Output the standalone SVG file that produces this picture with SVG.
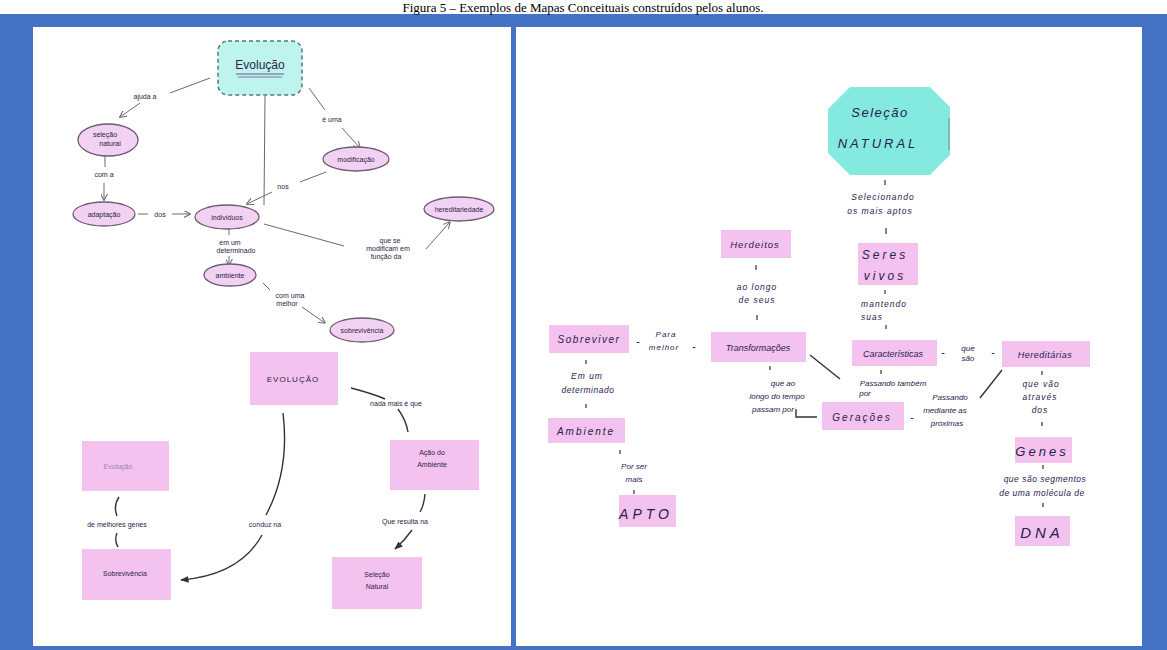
<svg xmlns="http://www.w3.org/2000/svg" width="1167" height="650" viewBox="0 0 1167 650">
<defs>
<style>
.cloud{fill:#f2d2f2;stroke:#6e5a72;stroke-width:1.3}
.pk{fill:#f3c2ee}
.ln{fill:none;stroke:#6a6a6a;stroke-width:1}
.dk{fill:none;stroke:#333;stroke-width:1.4}
.t{font-family:"Liberation Sans",Arial,sans-serif;fill:#2b2448;text-anchor:middle}
.s{font-size:7px}
.hw{font-family:"Liberation Sans",Arial,sans-serif;font-style:italic;fill:#2a2050;text-anchor:middle}
</style>
<marker id="ah" viewBox="0 0 10 10" refX="9" refY="5" markerWidth="7" markerHeight="7" orient="auto"><path d="M0,0 L10,5 L0,10" fill="none" stroke="#6a6a6a" stroke-width="1.5"/></marker>
<marker id="ahd" viewBox="0 0 10 10" refX="9" refY="5" markerWidth="6" markerHeight="6" orient="auto"><path d="M0,1 L10,5 L0,9 Z" fill="#333"/></marker>
</defs>
<rect x="0" y="0" width="1167" height="650" fill="#fff"/>
<rect x="0" y="14" width="1167" height="636" fill="#4472c4"/>
<text x="583" y="12" font-family="Liberation Serif,serif" font-size="13" text-anchor="middle" fill="#000">Figura 5 – Exemplos de Mapas Conceituais construídos pelos alunos.</text>
<rect x="33" y="27" width="478" height="619" fill="#fff"/>
<rect x="516" y="27" width="626" height="619" fill="#fff"/>

<g id="connectors">
<path class="ln" d="M210,78 L170,93"/>
<path class="ln" d="M140,103 L120,117" marker-end="url(#ah)"/>
<path class="ln" d="M105,153 L105,167"/>
<path class="ln" d="M104,183 L104,200" marker-end="url(#ah)"/>
<path class="ln" d="M138,214 L148,214"/>
<path class="ln" d="M172,214 L190,214" marker-end="url(#ah)"/>
<path class="ln" d="M265,96 L264,205" stroke="#c8c8c8"/>
<path class="ln" d="M309,88 L325,110"/>
<path class="ln" d="M342,128 L360,148" marker-end="url(#ah)"/>
<path class="ln" d="M326,172 L300,182"/>
<path class="ln" d="M272,192 L247,204" marker-end="url(#ah)"/>
<path class="ln" d="M229,228 L229,235"/>
<path class="ln" d="M229,256 L229,265" marker-end="url(#ah)"/>
<path class="ln" d="M263,283 L270,290"/>
<path class="ln" d="M302,307 L325,323" marker-end="url(#ah)"/>
<path class="ln" d="M264,224 L344,246"/>
<path class="ln" d="M426,249 L450,222" marker-end="url(#ah)"/>
<path class="dk" d="M351,388 Q374,394 385,399"/>
<path class="dk" d="M398,409 Q406,420 408,432"/>
<path class="dk" d="M425,494 Q424,505 420,512"/>
<path class="dk" d="M412,530 Q405,540 395,549" marker-end="url(#ahd)"/>
<path class="dk" d="M283,413 Q290,470 266,515"/>
<path class="dk" d="M262,535 Q240,575 181,580" marker-end="url(#ahd)"/>
<path class="dk" d="M119,497 Q113,506 117,516"/>
<path class="dk" d="M117,533 Q114,540 118,547"/>
<path class="dk" d="M810,355 L840,379"/>
<path class="dk" d="M1002,370 L980,398"/>
<path class="dk" d="M796,409 L796,417 L817,417"/>
<g stroke="#333" stroke-width="1.2">
<line x1="885" y1="180" x2="885" y2="185"/><line x1="886" y1="228" x2="886" y2="234"/>
<line x1="885" y1="290" x2="885" y2="294"/><line x1="886" y1="325" x2="886" y2="329"/>
<line x1="881" y1="370" x2="881" y2="374"/>
<line x1="1042" y1="371" x2="1042" y2="375"/><line x1="1042" y1="422" x2="1042" y2="426"/>
<line x1="1043" y1="465" x2="1043" y2="469"/><line x1="1043" y1="503" x2="1043" y2="507"/>
<line x1="756" y1="265" x2="756" y2="270"/><line x1="757" y1="315" x2="757" y2="320"/>
<line x1="586" y1="360" x2="586" y2="364"/><line x1="586" y1="404" x2="586" y2="408"/>
<line x1="620" y1="450" x2="620" y2="454"/><line x1="634" y1="490" x2="634" y2="494"/>
<line x1="770" y1="366" x2="770" y2="370"/>
</g>
</g>

<g id="n-evolucao-top">
<rect x="218" y="41" width="84" height="54" rx="10" fill="#bff3ee" stroke="#4a7d7a" stroke-width="1.5" stroke-dasharray="4 3"/>
<text class="t" x="260" y="69" font-size="12">Evolução</text>
<line x1="236" y1="74" x2="284" y2="74" stroke="#6a5a92" stroke-width="1"/>
<line x1="238" y1="77" x2="282" y2="77" stroke="#6a5a92" stroke-width="0.8"/>
<text class="t s" x="145" y="99">ajuda a</text>
</g>
<g id="n-selecao-natural-c"><ellipse class="cloud" cx="108" cy="140" rx="30" ry="16"/><text class="t s" x="105" y="137">seleção</text><text class="t s" x="110" y="146">natural</text><text class="t s" x="104" y="177">com a</text></g>
<g id="n-adaptacao"><ellipse class="cloud" cx="104" cy="214" rx="31" ry="12"/><text class="t s" x="104" y="217">adaptação</text><text class="t s" x="160" y="217">dos</text></g>
<g id="n-individuos"><ellipse class="cloud" cx="227" cy="217" rx="32" ry="12"/><text class="t s" x="227" y="220">indivíduos</text></g>
<g id="n-modificacao"><ellipse class="cloud" cx="356" cy="159" rx="33" ry="12"/><text class="t s" x="356" y="162">modificação</text><text class="t s" x="332" y="122">é uma</text><text class="t s" x="283" y="189">nos</text></g>
<g id="n-hereditariedade"><ellipse class="cloud" cx="459" cy="209" rx="35" ry="12"/><text class="t s" x="459" y="212">hereditariedade</text>
<text class="t s" x="390" y="243">que se</text><text class="t s" x="388" y="251">modificam em</text><text class="t s" x="386" y="259">função da</text></g>
<g id="n-ambiente-c"><ellipse class="cloud" cx="230" cy="275" rx="26" ry="11"/><text class="t s" x="230" y="278">ambiente</text>
<text class="t s" x="230" y="245">em um</text><text class="t s" x="236" y="253">determinado</text></g>
<g id="n-sobrevivencia-c"><ellipse class="cloud" cx="362" cy="330" rx="32" ry="12"/><text class="t s" x="362" y="333">sobrevivência</text>
<text class="t s" x="290" y="298">com uma</text><text class="t s" x="287" y="306">melhor</text></g>

<g id="n-evolucao-box"><rect class="pk" x="250" y="352" width="88" height="53"/><text class="t" x="293" y="382" font-size="8" letter-spacing="1">EVOLUÇÃO</text>
<text class="t s" x="396" y="406">nada mais é que</text></g>
<g id="n-acao"><rect class="pk" x="390" y="440" width="89" height="50"/><text class="t s" x="432" y="455">Ação do</text><text class="t s" x="432" y="467">Ambiente</text>
<text class="t s" x="405" y="524">Que resulta na</text></g>
<g id="n-selecao-box"><rect class="pk" x="332" y="557" width="90" height="52"/><text class="t s" x="377" y="577">Seleção</text><text class="t s" x="377" y="589">Natural</text></g>
<g id="n-evolucao-faint"><rect class="pk" x="82" y="441" width="87" height="50"/><text class="t s" x="118" y="469" style="fill:#9a86a8">Evolução</text>
<text class="t s" x="117" y="527">de melhores genes</text></g>
<g id="n-sobrevivencia-box"><rect class="pk" x="82" y="549" width="89" height="51"/><text class="t s" x="125" y="576">Sobrevivência</text>
<text class="t s" x="265" y="527">conduz na</text></g>

<g id="n-selecao-oct"><polygon points="850,87 930,87 950,107 950,155 930,175 850,175 828,153 828,109" fill="#84e9de"/><line x1="949" y1="118" x2="949" y2="150" stroke="#7a8a90" stroke-width="1"/>
<text class="hw" x="880" y="117" font-size="13" letter-spacing="1.5">Seleção</text><text class="hw" x="878" y="148" font-size="13" letter-spacing="3">NATURAL</text>
<text class="hw" x="883" y="200" font-size="8.5" letter-spacing="1">Selecionando</text><text class="hw" x="880" y="214" font-size="8.5" letter-spacing="1">os mais aptos</text></g>
<g id="n-seres"><rect class="pk" x="858" y="243" width="60" height="42"/><text class="hw" x="885" y="259" font-size="12" letter-spacing="3">Seres</text><text class="hw" x="885" y="280" font-size="12" letter-spacing="3">vivos</text>
<text class="hw" x="884" y="307" font-size="8.5" letter-spacing="1">mantendo</text><text class="hw" x="872" y="320" font-size="8.5" letter-spacing="1">suas</text></g>
<g id="n-caracteristicas"><rect class="pk" x="852" y="340" width="85" height="26"/><text class="hw" x="893" y="357" font-size="9">Características</text>
<text class="hw" x="943" y="356" font-size="10">-</text><text class="hw" x="968" y="351" font-size="8">que</text><text class="hw" x="968" y="361" font-size="8">são</text><text class="hw" x="993" y="356" font-size="10">-</text>
<text class="hw" x="893" y="386" font-size="8">Passando também</text><text class="hw" x="865" y="396" font-size="8">por</text></g>
<g id="n-hereditarias"><rect class="pk" x="1002" y="341" width="88" height="26"/><text class="hw" x="1045" y="358" font-size="9" letter-spacing="0.5">Hereditárias</text>
<text class="hw" x="1041" y="387" font-size="8.5" letter-spacing="1">que vão</text><text class="hw" x="1040" y="400" font-size="8.5" letter-spacing="1">através</text><text class="hw" x="1040" y="413" font-size="8.5" letter-spacing="1">dos</text></g>
<g id="n-genes"><rect class="pk" x="1015" y="437" width="57" height="26"/><text class="hw" x="1042" y="456" font-size="13" letter-spacing="3">Genes</text>
<text class="hw" x="1045" y="482" font-size="8.5" letter-spacing="0.5">que são segmentos</text><text class="hw" x="1042" y="496" font-size="8.5" letter-spacing="0.5">de uma molécula de</text></g>
<g id="n-dna"><rect class="pk" x="1015" y="516" width="55" height="30"/><text class="hw" x="1042" y="538" font-size="15" letter-spacing="4">DNA</text></g>
<g id="n-geracoes"><rect class="pk" x="822" y="402" width="82" height="28"/><text class="hw" x="862" y="421" font-size="10" letter-spacing="2">Gerações</text>
<text class="hw" x="912" y="421" font-size="10">-</text><text class="hw" x="950" y="400" font-size="8">Passando</text><text class="hw" x="945" y="413" font-size="8">mediante as</text><text class="hw" x="947" y="426" font-size="8">próximas</text></g>
<g id="n-transformacoes"><rect class="pk" x="711" y="332" width="95" height="30"/><text class="hw" x="758" y="351" font-size="9">Transformações</text>
<text class="hw" x="783" y="386" font-size="8">que ao</text><text class="hw" x="777" y="399" font-size="8">longo do tempo</text><text class="hw" x="773" y="412" font-size="8">passam por</text></g>
<g id="n-herdeitos"><rect class="pk" x="721" y="230" width="70" height="28"/><text class="hw" x="755" y="248" font-size="9.5" letter-spacing="1">Herdeitos</text>
<text class="hw" x="757" y="290" font-size="8.5" letter-spacing="1">ao longo</text><text class="hw" x="757" y="303" font-size="8.5" letter-spacing="1">de seus</text></g>
<g id="n-sobreviver"><rect class="pk" x="549" y="325" width="80" height="28"/><text class="hw" x="589" y="343" font-size="10" letter-spacing="1.5">Sobreviver</text>
<text class="hw" x="638" y="345" font-size="10">-</text><text class="hw" x="666" y="337" font-size="8" letter-spacing="1">Para</text><text class="hw" x="664" y="350" font-size="8" letter-spacing="1">melhor</text><text class="hw" x="694" y="350" font-size="10">-</text>
<text class="hw" x="587" y="379" font-size="8.5" letter-spacing="1">Em um</text><text class="hw" x="588" y="393" font-size="8.5" letter-spacing="0.5">determinado</text></g>
<g id="n-ambiente"><rect class="pk" x="548" y="418" width="77" height="25"/><text class="hw" x="586" y="435" font-size="10" letter-spacing="2">Ambiente</text>
<text class="hw" x="634" y="469" font-size="8">Por ser</text><text class="hw" x="634" y="482" font-size="8">mais</text></g>
<g id="n-apto"><rect class="pk" x="619" y="495" width="57" height="32"/><text class="hw" x="646" y="519" font-size="14" letter-spacing="4">APTO</text></g>
</svg>
